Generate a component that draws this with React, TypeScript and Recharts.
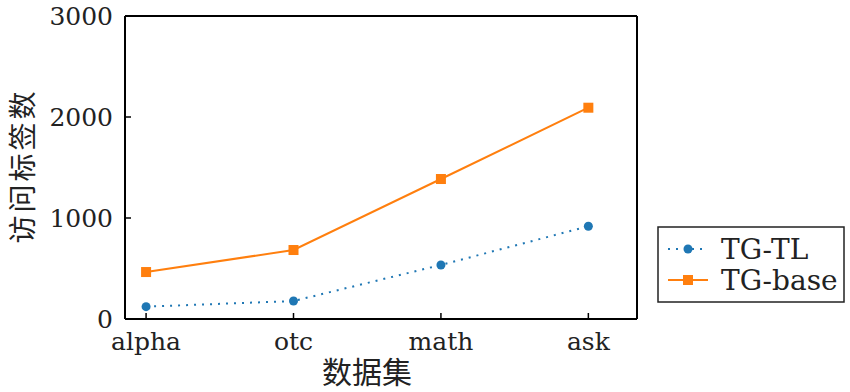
import React from 'react';
import { LineChart, Line, XAxis, YAxis } from 'recharts';

const categories = ['alpha', 'otc', 'math', 'ask'];
const tgTL = [122, 178, 535, 918];
const tgBase = [465, 683, 1386, 2092];
const yTicks = [0, 1000, 2000, 3000];

const data = categories.map((c, i) => ({ x: i, name: c, tl: tgTL[i], base: tgBase[i] }));

const SERIF = '"DejaVu Serif", serif';
const CJK = '"Noto Sans CJK SC", sans-serif';
const BLUE = '#1f77b4';
const ORANGE = '#ff7f0e';
const TXT = '#222';
const M = 10;

const XTick = (props: any) => {
  const { x, y, payload } = props;
  const ay = y - M;
  return (
    <g>
      <line x1={x} x2={x} y1={ay} y2={ay - 6} stroke="#000" strokeWidth={1.5} />
      <text x={x} y={ay + 31} textAnchor="middle" fontFamily={SERIF} fontSize={25} fill={TXT}>
        {categories[payload.value]}
      </text>
    </g>
  );
};

const YTick = (props: any) => {
  const { x, y, payload } = props;
  const ax = x + M;
  return (
    <g>
      {payload.value !== 0 && payload.value !== 3000 && (
        <line x1={ax} x2={ax + 6} y1={y} y2={y} stroke="#000" strokeWidth={1.5} />
      )}
      <text x={ax - 12} y={y + 9} textAnchor="end" fontFamily={SERIF} fontSize={25} fill={TXT}>
        {payload.value}
      </text>
    </g>
  );
};

const SquareDot = (props: any) => {
  const { cx, cy, index } = props;
  return <rect key={'sq' + index} x={cx - 5} y={cy - 5} width={10} height={10} fill={ORANGE} />;
};

const CircleDot = (props: any) => {
  const { cx, cy, index } = props;
  return <circle key={'c' + index} cx={cx} cy={cy} r={4.5} fill={BLUE} />;
};

const LegendBox = () => (
  <svg width={188} height={77} style={{ position: 'absolute', left: 657, top: 226 }}>
    <rect x={1} y={1} width={186} height={75} fill="#fff" stroke="#222" strokeWidth={1.5} />
    <line x1={11} x2={51} y1={23} y2={23} stroke={BLUE} strokeWidth={2} strokeDasharray="2 6" />
    <circle cx={31} cy={23} r={4.5} fill={BLUE} />
    <text x={64} y={33} fontFamily={SERIF} fontSize={28} fill={TXT}>TG-TL</text>
    <line x1={11} x2={51} y1={54} y2={54} stroke={ORANGE} strokeWidth={2} />
    <rect x={26} y={49} width={10} height={10} fill={ORANGE} />
    <text x={64} y={64} fontFamily={SERIF} fontSize={28} fill={TXT}>TG-base</text>
  </svg>
);

export default function App() {
  return (
    <div style={{ position: 'absolute', left: 0, top: 0, width: 850, height: 392, background: '#fff' }}>
      <LineChart width={850} height={392} data={data} margin={{ top: 15, right: 212, bottom: 72, left: 124 }}>
        <XAxis
          dataKey="x"
          type="number"
          domain={[-0.143, 3.33]}
          ticks={[0, 1, 2, 3]}
          allowDataOverflow
          tickLine={false}
          tickSize={0}
          tickMargin={M}
          axisLine={{ stroke: '#000', strokeWidth: 2 }}
          tick={<XTick />}
          height={1}
          label={(p: any) => (
            <text x={367} y={383} textAnchor="middle" fontFamily={CJK} fontSize={30} fill={TXT}>数据集</text>
          )}
        />
        <XAxis xAxisId="top" orientation="top" dataKey="x" type="number" domain={[-0.143, 3.33]} allowDataOverflow tick={false} tickLine={false} axisLine={{ stroke: '#000', strokeWidth: 2 }} height={1} />
        <YAxis
          type="number"
          domain={[0, 3000]}
          ticks={yTicks}
          tickLine={false}
          tickSize={0}
          tickMargin={M}
          axisLine={{ stroke: '#000', strokeWidth: 2 }}
          tick={<YTick />}
          width={1}
          label={(p: any) => (
            <text x={0} y={0} transform="translate(21,166) rotate(-90)" textAnchor="middle" dominantBaseline="central" fontFamily={CJK} fontSize={28} letterSpacing={3} fill={TXT}>访问标签数</text>
          )}
        />
        <YAxis yAxisId="right" orientation="right" type="number" domain={[0, 3000]} tick={false} tickLine={false} axisLine={{ stroke: '#000', strokeWidth: 2 }} width={1} />
        <Line dataKey="tl" stroke={BLUE} strokeWidth={2} strokeDasharray="2 6" dot={<CircleDot />} isAnimationActive={false} />
        <Line dataKey="base" stroke={ORANGE} strokeWidth={2} dot={<SquareDot />} isAnimationActive={false} />
      </LineChart>
      <LegendBox />
    </div>
  );
}
